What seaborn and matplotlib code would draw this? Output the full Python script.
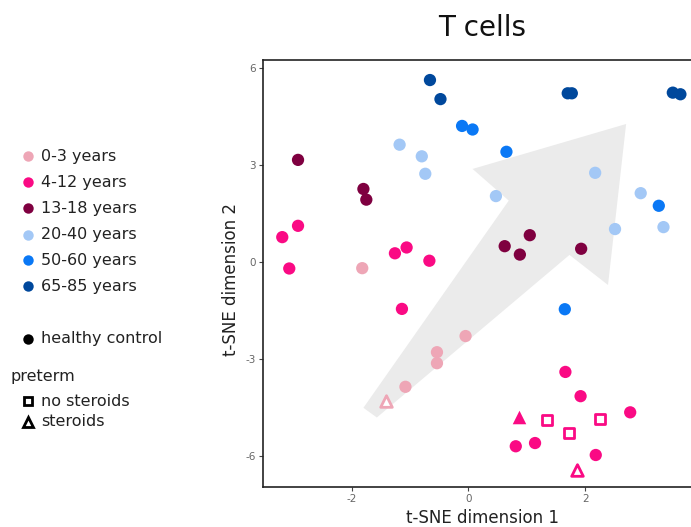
import matplotlib
matplotlib.use("Agg")
import matplotlib.pyplot as plt
from matplotlib.lines import Line2D
from matplotlib.patches import Polygon
import seaborn as sns
import pandas as pd

# ---- data -------------------------------------------------------------
age_groups = ["0-3 years", "4-12 years", "13-18 years",
              "20-40 years", "50-60 years", "65-85 years"]
age_colors = ["#eea6b6", "#fa0a84", "#7f0040",
              "#a3c8f6", "#0a78f5", "#00489c"]

dim1 = [
    # 65-85 years
    -0.66, -0.48, 1.70, 1.77, 3.50, 3.63,
    # 50-60 years
    -0.11, 0.07, 0.65, 3.26, 1.65,
    # 20-40 years
    -1.18, -0.80, -0.74, 0.47, 2.17, 2.95, 2.51, 3.34,
    # 13-18 years
    -2.92, -1.80, -1.75, 1.05, 0.62, 0.88, 1.93,
    # 4-12 years
    -2.92, -3.19, -3.07, -1.06, -1.26, -0.67, -1.14, 1.66, 1.92, 2.77,
    0.81, 1.14, 2.18, 0.86, 1.34, 1.73, 2.25, 1.86,
    # 0-3 years
    -1.82, -0.05, -0.54, -0.54, -1.08, -1.41,
]
dim2 = [
    5.63, 5.04, 5.22, 5.22, 5.24, 5.19,
    4.21, 4.10, 3.41, 1.74, -1.46,
    3.63, 3.27, 2.73, 2.04, 2.76, 2.13, 1.02, 1.08,
    3.16, 2.26, 1.93, 0.83, 0.49, 0.23, 0.41,
    1.12, 0.77, -0.20, 0.45, 0.27, 0.04, -1.45, -3.40, -4.15, -4.65,
    -5.70, -5.60, -5.97, -4.79, -4.89, -5.30, -4.85, -6.44,
    -0.19, -2.29, -2.79, -3.13, -3.86, -4.30,
]
age = (["65-85 years"] * 6 + ["50-60 years"] * 5 + ["20-40 years"] * 8
       + ["13-18 years"] * 7 + ["4-12 years"] * 18 + ["0-3 years"] * 6)
group = (["healthy control"] * 26
         + ["healthy control"] * 13
         + ["steroids", "no steroids", "no steroids", "no steroids", "steroids"]
         + ["healthy control"] * 5 + ["steroids"])
filled = ([True] * 26 + [True] * 13
          + [True, False, False, False, False]
          + [True] * 5 + [False])

# outline of the trajectory arrow drawn behind the points
arrow_x = [-1.80, 0.69, 0.07, 2.70, 2.39, 1.73, -1.57]
arrow_y = [-4.51, 1.90, 2.88, 4.27, -0.71, 0.22, -4.81]

df = pd.DataFrame({"dim1": dim1, "dim2": dim2, "age": age,
                   "group": group, "filled": filled})
palette = dict(zip(age_groups, age_colors))
markers = {"healthy control": "o", "no steroids": "s", "steroids": "^"}

# ---- figure -----------------------------------------------------------
sns.set_theme(style="white")
plt.rcParams["font.family"] = ["DejaVu Sans"]
plt.rcParams["axes.unicode_minus"] = False

W, H = 691, 527
fig = plt.figure(figsize=(W / 100, H / 100), dpi=100)
ax = fig.add_axes([263 / W, 1 - 487 / H, 439 / W, 427 / H])

ax.add_patch(Polygon(list(zip(arrow_x, arrow_y)), closed=True,
                     facecolor="#ebebeb", edgecolor="none", zorder=0))

circles = df[df["group"] == "healthy control"]
sns.scatterplot(data=circles, x="dim1", y="dim2", hue="age",
                hue_order=age_groups, palette=palette, marker="o",
                s=78, linewidth=0, legend=False, ax=ax, zorder=3)

solid_tri = df[(df["group"] == "steroids") & df["filled"]]
for a, sub in solid_tri.groupby("age"):
    sns.scatterplot(data=sub, x="dim1", y="dim2", marker="^", s=95,
                    color=palette[a], linewidth=0, legend=False,
                    ax=ax, zorder=3)

open_pts = df[~df["filled"]]
for (a, g), sub in open_pts.groupby(["age", "group"]):
    size = 48 if g == "no steroids" else 70
    sns.scatterplot(data=sub, x="dim1", y="dim2", marker=markers[g],
                    s=size, facecolor="white", edgecolor=palette[a],
                    linewidth=2.0, legend=False, ax=ax, zorder=3)

ax.set_xlim(-3.52, 4.0)
ax.set_ylim(-6.96, 6.25)
ax.set_xticks([-2, 0, 2])
ax.set_yticks([-6, -3, 0, 3, 6])
ax.tick_params(axis="both", which="major", length=3, width=0.8,
               color="#444444", labelsize=7.5, labelcolor="#666666", pad=2,
               bottom=True, left=True)
for side in ["left", "bottom", "top"]:
    ax.spines[side].set_visible(True)
    ax.spines[side].set_color("#222222")
    ax.spines[side].set_linewidth(1.2)
ax.spines["right"].set_visible(False)

ax.set_xlabel("t-SNE dimension 1", fontsize=12, color="#222222")
ax.set_ylabel("t-SNE dimension 2", fontsize=12, color="#222222")
ax.xaxis.set_label_coords(0.5, -0.052)
ax.yaxis.set_label_coords(-0.052, 0.485)
ax.set_title("T cells", fontsize=20, color="#111111", pad=17)

# ---- legend -----------------------------------------------------------
def fx(px):
    return px / W

def fy(py):
    return 1 - py / H

legend_fs = 11.5
row_y = [156, 182, 208, 235, 260, 286]
for lab, col, y in zip(age_groups, age_colors, row_y):
    fig.add_artist(Line2D([fx(28)], [fy(y)], transform=fig.transFigure,
                          marker="o", markersize=7.5, markerfacecolor=col,
                          markeredgewidth=0, linestyle="none"))
    fig.text(fx(41), fy(y), lab, fontsize=legend_fs, color="#222222",
             ha="left", va="center")

fig.add_artist(Line2D([fx(28)], [fy(339)], transform=fig.transFigure,
                      marker="o", markersize=7.5, markerfacecolor="black",
                      markeredgewidth=0, linestyle="none"))
fig.text(fx(41), fy(339), "healthy control", fontsize=legend_fs,
         color="#222222", ha="left", va="center")

fig.text(fx(10), fy(376), "preterm", fontsize=legend_fs, color="#222222",
         ha="left", va="center")
for lab, mk, y, ms in [("no steroids", "s", 401, 6.0),
                       ("steroids", "^", 422, 7.5)]:
    fig.add_artist(Line2D([fx(28)], [fy(y)], transform=fig.transFigure,
                          marker=mk, markersize=ms, markerfacecolor="white",
                          markeredgecolor="black", markeredgewidth=2.0,
                          linestyle="none"))
    fig.text(fx(41), fy(y), lab, fontsize=legend_fs, color="#222222",
             ha="left", va="center")

fig.savefig("out.png", dpi=100)
